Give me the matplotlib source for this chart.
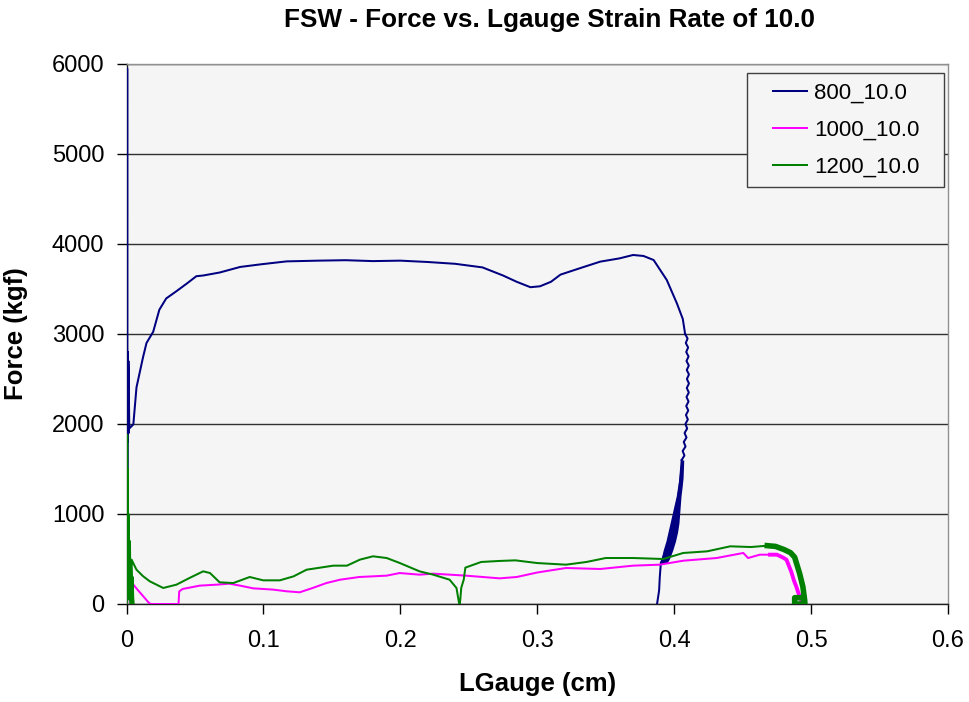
import matplotlib
matplotlib.use("Agg")
import matplotlib.pyplot as plt
from matplotlib.legend_handler import HandlerLine2D
from matplotlib.lines import Line2D
import numpy as np

plt.rcParams['font.family'] = ['Liberation Sans', 'DejaVu Sans']

title = "FSW - Force vs. Lgauge Strain Rate of 10.0"
xlabel = "LGauge (cm)"
ylabel = "Force (kgf)"
labels = ["800_10.0", "1000_10.0", "1200_10.0"]
colors = ["#000080", "#FF00FF", "#008000"]
xticks = [0, 0.1, 0.2, 0.3, 0.4, 0.5, 0.6]
xticklabels = ["0", "0.1", "0.2", "0.3", "0.4", "0.5", "0.6"]
yticks = [0, 1000, 2000, 3000, 4000, 5000, 6000]

# ---- 800_10.0 ----
b_x = [0.0003, 0.0005, 0.0006, 0.0008, 0.0010, 0.0008, 0.0012, 0.0010, 0.0016, 0.0014, 0.0020, 0.0024,
       0.005, 0.0073, 0.012, 0.0146, 0.0195, 0.024, 0.029, 0.0366, 0.044, 0.051, 0.056, 0.068, 0.083,
       0.098, 0.117, 0.14, 0.16, 0.18, 0.20, 0.22, 0.24, 0.26, 0.275, 0.285, 0.295, 0.302, 0.31, 0.317,
       0.325, 0.335, 0.346, 0.36, 0.370, 0.3776, 0.385, 0.3946, 0.402, 0.4063, 0.408]
b_y = [0, 5950, 1000, 2800, 1800, 2800, 1900, 2800, 1900, 2700, 2000, 1955,
       1996, 2407, 2737, 2900, 3025, 3270, 3395, 3477, 3560, 3642, 3650, 3683, 3745,
       3774, 3807, 3815, 3820, 3810, 3815, 3800, 3780, 3740, 3650, 3580, 3520, 3530, 3580, 3660,
       3700, 3750, 3804, 3840, 3878, 3867, 3822, 3600, 3340, 3167, 3000]
# jagged descent
bj_y = [3000, 2950, 2900, 2850, 2800, 2750, 2700, 2650, 2600, 2550, 2500, 2450, 2400, 2350, 2300,
        2250, 2200, 2150, 2100, 2050, 2000, 1950, 1900, 1850, 1800, 1750, 1700, 1650, 1600]
bj_x = [0.4080, 0.4098, 0.4085, 0.4102, 0.4088, 0.4105, 0.4090, 0.4107, 0.4092, 0.4108, 0.4093, 0.4108,
        0.4092, 0.4107, 0.4090, 0.4105, 0.4088, 0.4103, 0.4086, 0.4100, 0.4082, 0.4095, 0.4076, 0.4090,
        0.4070, 0.4083, 0.4062, 0.4075, 0.4055]
# dense band (left / right edges)
bb_y = [1600, 1400, 1300, 1200, 1000, 900, 800, 700, 600, 500, 450]
bb_l = [0.4050, 0.4035, 0.4025, 0.4015, 0.3985, 0.3970, 0.3955, 0.3940, 0.3920, 0.3905, 0.3900]
bb_r = [0.4070, 0.4065, 0.4058, 0.4050, 0.4040, 0.4035, 0.4025, 0.4010, 0.3990, 0.3965, 0.3945]
# tail
bt_x = [0.4055, 0.4040, 0.4010, 0.3975, 0.3940, 0.3910, 0.3903, 0.3895, 0.3890, 0.3875]
bt_y = [1600, 1300, 1000, 800, 600, 480, 460, 300, 150, 0]

# ---- 1000_10.0 ----
p_x = [0.0005, 0.0008, 0.0012, 0.003, 0.005, 0.008, 0.012, 0.0165, 0.018, 0.038, 0.0385, 0.041,
       0.0535, 0.066, 0.075, 0.083, 0.0925, 0.107, 0.117, 0.1265, 0.136, 0.146, 0.156, 0.170, 0.19,
       0.1995, 0.214, 0.224, 0.248, 0.2725, 0.285, 0.30, 0.321, 0.346, 0.370, 0.3895, 0.4066, 0.431,
       0.4505, 0.454, 0.4626, 0.470]
p_y = [0, 900, 200, 260, 215, 160, 90, 10, 0, 0, 140, 167,
       204, 215, 226, 204, 174, 160, 141, 130, 178, 233, 270, 300, 315,
       344, 326, 337, 315, 285, 300, 350, 400, 389, 426, 437, 481, 511,
       567, 511, 548, 548]
pe_x = [0.470, 0.475, 0.479, 0.482, 0.4855, 0.4875, 0.4892, 0.4910, 0.4928, 0.4935]
pe_y = [548, 548, 520, 493, 359, 260, 193, 110, 44, 0]

# ---- 1200_10.0 ----
g_x = [0.0003, 0.0005, 0.0007, 0.0009, 0.0012, 0.0015, 0.0020, 0.0025, 0.0030, 0.0035, 0.0040,
       0.0045, 0.0050, 0.0040, 0.0037, 0.0073, 0.012, 0.017, 0.0268, 0.0365, 0.046, 0.056, 0.061,
       0.068, 0.078, 0.09, 0.0998, 0.112, 0.122, 0.1315, 0.151, 0.161, 0.1705, 0.18, 0.19, 0.1995,
       0.214, 0.224, 0.236, 0.241, 0.243, 0.2435, 0.2445, 0.2463, 0.2475, 0.259, 0.272, 0.284, 0.30,
       0.321, 0.336, 0.35, 0.37, 0.392, 0.4066, 0.424, 0.441, 0.456, 0.468]
g_y = [0, 1880, 200, 1500, 100, 1000, 50, 700, 0, 300, 0,
       300, 0, 300, 493, 381, 310, 252, 178, 215, 289, 363, 344,
       241, 233, 300, 263, 263, 307, 381, 426, 426, 493, 530, 511, 456,
       363, 326, 270, 178, 0, 0, 180, 270, 404, 467, 478, 485, 455,
       437, 467, 511, 511, 500, 567, 585, 641, 633, 648]
ge_x = [0.468, 0.474, 0.4804, 0.4850, 0.4880, 0.4916, 0.4940, 0.4953, 0.4955, 0.4880, 0.4880, 0.4950, 0.4950]
ge_y = [648, 640, 604, 570, 520, 341, 193, 44, 0, 0, 70, 70, 0]


class OffsetLineHandler(HandlerLine2D):
    """Draw the legend sample line only in the right part of the handle box."""
    def create_artists(self, legend, orig_handle, xdescent, ydescent, width, height, fontsize, trans):
        arts = super().create_artists(legend, orig_handle, xdescent, ydescent, width, height, fontsize, trans)
        for a in arts:
            if isinstance(a, Line2D):
                xd = np.asarray(a.get_xdata(), dtype=float)
                if xd.size >= 2:
                    x0, x1 = xd[0], xd[-1]
                    a.set_xdata(np.linspace(x0 + 0.34 * (x1 - x0), x1, xd.size))
        return arts


fig = plt.figure(figsize=(9.69, 7.02), dpi=100)
ax = fig.add_axes([126.5 / 969, 1 - 604 / 702, (948 - 126.5) / 969, 540 / 702])
ax.set_facecolor("#f5f5f5")

lw = 1.45
l1, = ax.plot(b_x, b_y, color=colors[0], lw=lw, label=labels[0], zorder=3)
ax.plot(bj_x, bj_y, color=colors[0], lw=lw, zorder=3)
ax.fill_betweenx(bb_y, bb_l, bb_r, color=colors[0], lw=0, zorder=3)
ax.plot(bt_x, bt_y, color=colors[0], lw=lw, zorder=3)

l2, = ax.plot(p_x, p_y, color=colors[1], lw=lw, label=labels[1], zorder=4)
ax.plot(pe_x, pe_y, color=colors[1], lw=2.8, zorder=4)

l3, = ax.plot(g_x, g_y, color=colors[2], lw=lw, label=labels[2], zorder=5)
ax.plot(ge_x, ge_y, color=colors[2], lw=4.0, zorder=5)

ax.set_xlim(0, 0.6)
ax.set_ylim(0, 6000)
ax.set_xticks(xticks)
ax.set_xticklabels(xticklabels)
ax.set_yticks(yticks)
ax.tick_params(axis='both', labelsize=17, direction='out', length=7, width=1, color='black')
ax.tick_params(axis='x', pad=12)
ax.tick_params(axis='y', pad=9)
ax.yaxis.grid(True, color='#303030', lw=1.0)
ax.set_axisbelow(True)
for s in ['top', 'right']:
    ax.spines[s].set_color('#909090')
for s in ['left', 'bottom']:
    ax.spines[s].set_color('#202020')
for s in ax.spines.values():
    s.set_linewidth(1.0)

fig.text(550 / 969, 1 - 20 / 702, title, fontsize=18.8, fontweight='bold', ha='center', va='center')
ax.set_xlabel(xlabel, fontsize=18.5, fontweight='bold', labelpad=14)
ax.set_ylabel(ylabel, fontsize=18.5, fontweight='bold', labelpad=17)

leg = ax.legend(handles=[l1, l2, l3], loc='upper left',
                bbox_to_anchor=(0.755, 0.776, (944 - 747) / 821.5, 0.207), mode='expand',
                fontsize=16, frameon=True, fancybox=False, framealpha=1,
                facecolor='#f5f5f5', edgecolor='#404040',
                handlelength=2.3, handletextpad=0.3, labelspacing=0.72, borderpad=0.42,
                borderaxespad=0, handler_map={Line2D: OffsetLineHandler()})
leg.get_frame().set_linewidth(1.0)
leg.set_zorder(10)

fig.savefig("out.png", dpi=100)
